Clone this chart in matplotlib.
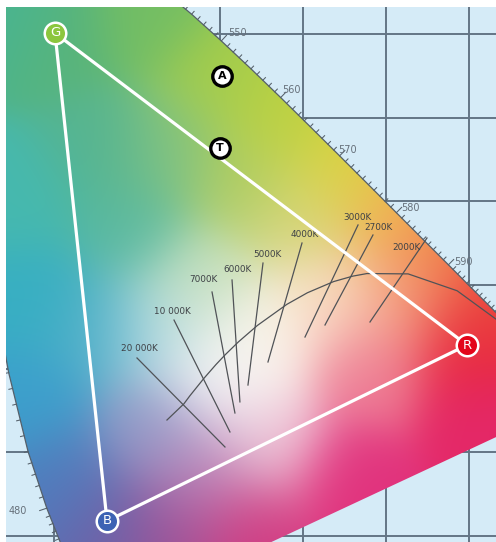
import numpy as np
import matplotlib
matplotlib.use("Agg")
import matplotlib.pyplot as plt
from matplotlib.patches import Polygon

# ---------------- data ----------------
# spectral locus (CIE 1931 x, y) for the visible part of the diagram
locus_nm = [460, 465, 470, 475, 480, 485, 490, 495, 500, 505, 510, 515, 520, 525,
            530, 535, 540, 545, 550, 555, 560, 565, 570, 575, 580, 585, 590, 595,
            600, 605, 610, 620, 630, 650, 700]
locus_x = [0.1440, 0.1355, 0.1241, 0.1096, 0.0913, 0.0687, 0.0454, 0.0235, 0.0082,
           0.0039, 0.0139, 0.0389, 0.0743, 0.1142, 0.1547, 0.1929, 0.2296, 0.2658,
           0.3016, 0.3373, 0.3731, 0.4087, 0.4441, 0.4788, 0.5125, 0.5448, 0.5752,
           0.6029, 0.6270, 0.6482, 0.6658, 0.6915, 0.7079, 0.7260, 0.7347]
locus_y = [0.0297, 0.0399, 0.0578, 0.0868, 0.1327, 0.2007, 0.2950, 0.4127, 0.5384,
           0.6548, 0.7502, 0.8120, 0.8338, 0.8262, 0.8059, 0.7816, 0.7543, 0.7243,
           0.6923, 0.6589, 0.6245, 0.5896, 0.5547, 0.5202, 0.4866, 0.4544, 0.4242,
           0.3965, 0.3725, 0.3514, 0.3340, 0.3083, 0.2920, 0.2740, 0.2653]
purple_end = (0.1741, 0.0050)

wl_labels = [480, 550, 560, 570, 580, 590]
wl_label_x = [0.0566, 0.3205, 0.3855, 0.4542, 0.5289, 0.5928]
wl_label_y = [0.1293, 0.7018, 0.6335, 0.5617, 0.4922, 0.4275]

# Planckian locus
planck_x = [0.2361, 0.2565, 0.2637, 0.2807, 0.2952, 0.3064, 0.3221, 0.3451, 0.3805,
            0.4053, 0.4369, 0.4599, 0.4770, 0.5267, 0.5857, 0.6528]
planck_y = [0.2383, 0.2577, 0.2673, 0.2883, 0.3048, 0.3166, 0.3318, 0.3516, 0.3768,
            0.3907, 0.4041, 0.4106, 0.4137, 0.4133, 0.3931, 0.3444]

# isotemperature lines
cct_labels = ["20 000K", "10 000K", "7000K", "6000K", "5000K", "4000K", "3000K", "2700K", "2000K"]
cct_x1 = [0.2000, 0.2446, 0.2904, 0.3145, 0.3518, 0.3988, 0.4663, 0.4843, 0.5494]
cct_y1 = [0.3126, 0.3580, 0.3916, 0.4060, 0.4263, 0.4503, 0.4719, 0.4599, 0.4563]
cct_x2 = [0.3060, 0.3120, 0.3180, 0.3240, 0.3337, 0.3578, 0.4024, 0.4265, 0.4807]
cct_y2 = [0.2060, 0.2240, 0.2467, 0.2600, 0.2802, 0.3078, 0.3377, 0.3521, 0.3557]
cct_lx = [0.2024, 0.2422, 0.2795, 0.3205, 0.3566, 0.4024, 0.4651, 0.4904, 0.5241]
cct_ly = [0.3234, 0.3677, 0.4060, 0.4180, 0.4360, 0.4600, 0.4814, 0.4683, 0.4455]

# gamut triangle primaries
prim_names = ["G", "R", "B"]
prim_x = [0.1012, 0.5976, 0.1639]
prim_y = [0.7018, 0.3281, 0.1174]
prim_colors = ["#8cc63e", "#e3061b", "#3d63b4"]

# points A and T
pt_names = ["A", "T"]
pt_x = [0.3024, 0.3000]
pt_y = [0.6503, 0.5640]

# ---------------- style: colour anchors for the chromaticity fill ----------------
anchor_x = [0.047, 0.101, 0.216, 0.300, 0.372, 0.445, 0.505, 0.565, 0.625, 0.598,
            0.613, 0.457, 0.336, 0.240, 0.164, 0.107, 0.071, 0.071, 0.059, 0.155,
            0.240, 0.324, 0.396, 0.300, 0.348, 0.433, 0.517, 0.481, 0.228, 0.155,
            0.216, 0.276, 0.360, 0.276, 0.192]
anchor_y = [0.723, 0.702, 0.723, 0.650, 0.598, 0.538, 0.484, 0.430, 0.376, 0.328,
            0.238, 0.166, 0.107, 0.107, 0.113, 0.166, 0.262, 0.382, 0.502, 0.562,
            0.562, 0.526, 0.478, 0.286, 0.334, 0.382, 0.382, 0.298, 0.346, 0.346,
            0.226, 0.178, 0.214, 0.406, 0.466]
anchor_rgb = [(70, 180, 150), (90, 180, 120), (115, 190, 100), (165, 205, 75), (190, 210, 65),
              (220, 212, 62), (242, 180, 85), (240, 125, 70), (235, 70, 60), (232, 35, 60),
              (228, 40, 105), (225, 50, 125), (210, 60, 130), (160, 80, 150), (105, 100, 170),
              (80, 125, 190), (60, 160, 205), (55, 175, 195), (70, 185, 175), (85, 180, 145),
              (130, 195, 130), (175, 205, 100), (215, 215, 130), (246, 246, 248), (250, 245, 235),
              (250, 225, 200), (245, 170, 140), (238, 125, 150), (195, 225, 230), (80, 175, 200),
              (145, 155, 200), (190, 140, 190), (240, 205, 220), (200, 225, 190), (90, 185, 160)]

# ---------------- figure ----------------
W, H = 496, 542
fig = plt.figure(figsize=(W / 100, H / 100), dpi=100)
fig.patch.set_facecolor("white")
ax = fig.add_axes([6 / W, 0, 490 / W, 535 / H])
xmin, xmax = 0.04217, 0.63253
ymin, ymax = 0.09222, 0.73293
ax.set_facecolor("#d5ebf7")
for s in ax.spines.values():
    s.set_visible(False)
ax.set_xticks(np.arange(0.0, 0.8, 0.1))
ax.set_yticks(np.arange(0.0, 0.9, 0.1))
ax.tick_params(length=0, labelleft=False, labelbottom=False)
ax.grid(True, color="#637585", lw=1.4)
ax.set_axisbelow(True)

# chromaticity colour field (smooth blend of anchor colours)
nx, ny = 300, 330
gx = np.linspace(xmin, xmax, nx)
gy = np.linspace(ymin, ymax, ny)
XX, YY = np.meshgrid(gx, gy)
ax_a = np.array(anchor_x)[None, None, :]
ay_a = np.array(anchor_y)[None, None, :]
cols = np.array(anchor_rgb, dtype=float) / 255.0
d2 = (XX[..., None] - ax_a) ** 2 + (YY[..., None] - ay_a) ** 2
sigma = 0.046
wts = np.exp(-d2 / (2 * sigma ** 2)) + 1e-12
rgb = np.einsum("hwk,kc->hwc", wts, cols) / wts.sum(axis=2, keepdims=True)
rgb = np.clip(rgb, 0, 1)
img = ax.imshow(rgb, origin="lower", extent=(xmin, xmax, ymin, ymax),
                interpolation="bilinear", aspect="auto", zorder=1)
poly_pts = list(zip(locus_x, locus_y)) + [purple_end]
clip = Polygon(poly_pts, closed=True, transform=ax.transData, facecolor="none", edgecolor="none")
ax.add_patch(clip)
img.set_clip_path(clip)

# locus edge with ticks
lx = np.array(locus_x)
ly = np.array(locus_y)
ax.plot(lx, ly, color="#55606a", lw=0.9, zorder=2)
for i in range(len(locus_nm) - 1):
    if locus_nm[i + 1] - locus_nm[i] != 5:
        continue
    dx = lx[i + 1] - lx[i]
    dy = ly[i + 1] - ly[i]
    L = np.hypot(dx, dy)
    nxn, nyn = -dy / L, dx / L
    for k in range(5):
        f = k / 5
        px = lx[i] + f * dx
        py = ly[i] + f * dy
        nm = locus_nm[i] + k
        tl = 0.009 if nm in wl_labels else 0.0045
        ax.plot([px, px + nxn * tl], [py, py + nyn * tl], color="#55606a", lw=0.75, zorder=2)
for nm, tx, ty in zip(wl_labels, wl_label_x, wl_label_y):
    ax.text(tx, ty, str(nm), fontsize=7, color="#66707a", ha="center", va="center", zorder=3)

# Planckian locus and isotemperature lines
ax.plot(planck_x, planck_y, color="#505357", lw=0.9, zorder=3)
for lab, x1, y1, x2, y2, tx, ty in zip(cct_labels, cct_x1, cct_y1, cct_x2, cct_y2, cct_lx, cct_ly):
    ax.plot([x1, x2], [y1, y2], color="#505357", lw=0.9, zorder=3)
    ax.text(tx, ty, lab, fontsize=6.4, color="#3e4146", ha="center", va="center", zorder=3)

# gamut triangle
tri_x = prim_x + [prim_x[0]]
tri_y = prim_y + [prim_y[0]]
ax.plot(tri_x, tri_y, color="white", lw=2.3, zorder=4, solid_capstyle="round")
for n, x, y, c in zip(prim_names, prim_x, prim_y, prim_colors):
    ax.plot(x, y, "o", ms=15.5, mfc=c, mec="white", mew=1.8, zorder=5)
    ax.text(x, y, n, fontsize=9.5, color="white", ha="center", va="center", zorder=6)

for n, x, y in zip(pt_names, pt_x, pt_y):
    ax.plot(x, y, "o", ms=14, mfc="white", mec="black", mew=2.4, zorder=5)
    ax.text(x, y, n, fontsize=8, color="black", fontweight="bold", ha="center", va="center", zorder=6)

ax.set_xlim(xmin, xmax)
ax.set_ylim(ymin, ymax)
fig.savefig("out.png", dpi=100, facecolor="white")
